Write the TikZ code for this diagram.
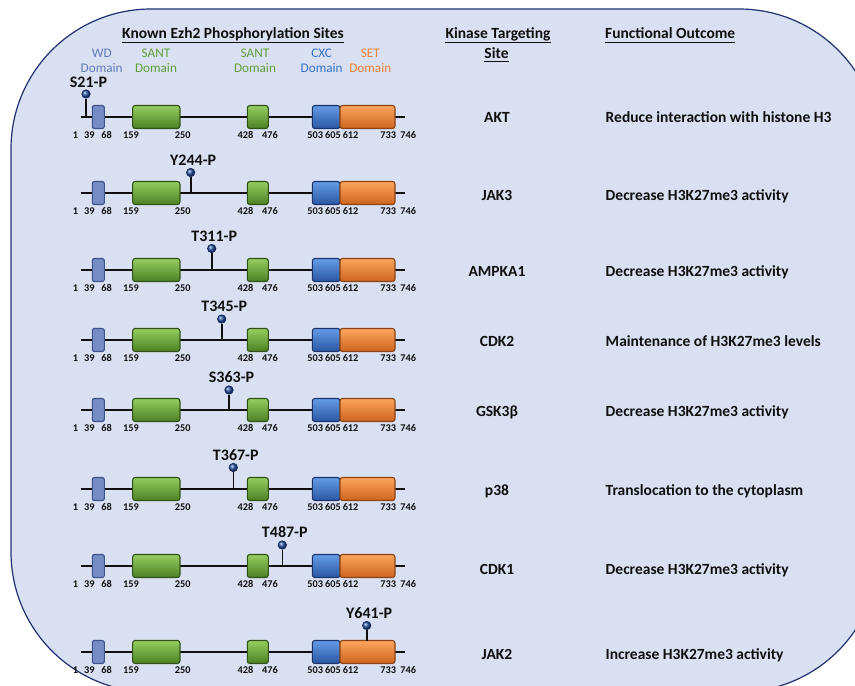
\documentclass[tikz,border=0pt]{standalone}
\usepackage{fontspec}
\setmainfont{Carlito}
\usetikzlibrary{calc}
\definecolor{bgfill}{RGB}{217,224,241}
\definecolor{bgline}{RGB}{32,48,112}
\definecolor{wdtxt}{RGB}{96,124,184}
\definecolor{santtxt}{RGB}{98,160,58}
\definecolor{cxctxt}{RGB}{52,112,200}
\definecolor{settxt}{RGB}{240,130,50}
\definecolor{wdlight}{RGB}{200,212,240}
\definecolor{wddark}{RGB}{118,140,196}
\definecolor{wdedge}{RGB}{62,82,140}
\definecolor{santlight}{RGB}{150,205,95}
\definecolor{santmid}{RGB}{112,172,58}
\definecolor{santdark}{RGB}{76,128,36}
\definecolor{santedge}{RGB}{48,82,24}
\definecolor{cxclight}{RGB}{100,155,230}
\definecolor{cxcmid}{RGB}{64,116,204}
\definecolor{cxcdark}{RGB}{42,86,164}
\definecolor{cxcedge}{RGB}{28,52,110}
\definecolor{setlight}{RGB}{252,165,95}
\definecolor{setmid}{RGB}{242,128,50}
\definecolor{setdark}{RGB}{205,100,30}
\definecolor{setedge}{RGB}{140,68,20}
\definecolor{ballfill}{RGB}{40,80,160}
\definecolor{balledge}{RGB}{20,40,90}
\definecolor{inkc}{RGB}{15,15,15}
\tikzset{
  domainbox/.style={draw, rounded corners=2.5pt, line width=1.1pt, minimum height=23pt, inner sep=0pt},
  wdbox/.style={domainbox, draw=wdedge, left color=wddark, middle color=wdlight, right color=wddark, minimum width=12pt, rounded corners=2pt},
  santbox/.style={domainbox, draw=santedge, top color=santlight, middle color=santmid, bottom color=santdark},
  cxcbox/.style={domainbox, draw=cxcedge, top color=cxclight, middle color=cxcmid, bottom color=cxcdark},
  setbox/.style={domainbox, draw=setedge, top color=setlight, middle color=setmid, bottom color=setdark},
  rowtxt/.style={font=\bfseries\fontsize{15.5}{18}\selectfont, text=inkc, inner sep=0pt, anchor=base},
  pintxt/.style={rowtxt, font=\bfseries\fontsize{16}{18}\selectfont},
  hdrtxt/.style={rowtxt, text depth=3.5pt},
  domlbl/.style={font=\fontsize{13.2}{15}\selectfont, inner sep=0pt, anchor=base},
  numlbl/.style={font=\bfseries\fontsize{10.3}{12}\selectfont, text=inkc, inner sep=0pt, anchor=base},
  pinball/.style={circle, draw=balledge, line width=0.6pt, ball color=ballfill, minimum size=8.5pt, inner sep=0pt},
  pinstem/.style={draw=inkc, line width=1.6pt},
  backbone/.style={draw=inkc, line width=1.5pt},
  ulne/.style={draw=inkc, line width=1pt}
}
\begin{document}
\begin{tikzpicture}[x=1pt, y=-1pt]
\useasboundingbox (0,0) rectangle (855,686);
\fill[white] (0,0) rectangle (855,686);
\begin{scope}
  \clip (0,0) rectangle (855,686);
  \draw[fill=bgfill, draw=bgline, line width=1.2pt, rounded corners=140pt] (11,9) rectangle (879,692);
\end{scope}
% headers
\node[hdrtxt] (title) at (233,38.5) {Known Ezh2 Phosphorylation Sites};
\draw[ulne] (title.south west) -- (title.south east);
\node[hdrtxt] (kin1) at (498,38.5) {Kinase Targeting};
\draw[ulne] (kin1.south west) -- (kin1.south east);
\node[hdrtxt] (kin2) at (496.5,58) {Site};
\draw[ulne] (kin2.south west) -- (kin2.south east);
\node[hdrtxt, anchor=base west] (fo) at (605,38.5) {Functional Outcome};
\draw[ulne] (fo.south west) -- (fo.south east);
% domain labels
\node[domlbl, text=wdtxt] (wdA) at (101.7,57) {WD};
\node[domlbl, text=wdtxt] (wdB) at (101.7,72.5) {Domain};
\node[domlbl, text=santtxt] (saA) at (156,57) {SANT};
\node[domlbl, text=santtxt] (saB) at (156,72.5) {Domain};
\node[domlbl, text=santtxt] (sbA) at (255,57) {SANT};
\node[domlbl, text=santtxt] (sbB) at (255,72.5) {Domain};
\node[domlbl, text=cxctxt] (cxA) at (321.7,57) {CXC};
\node[domlbl, text=cxctxt] (cxB) at (321.7,72.5) {Domain};
\node[domlbl, text=settxt] (seA) at (370.3,57) {SET};
\node[domlbl, text=settxt] (seB) at (370.3,72.5) {Domain};
% rows
\foreach \r/\y/\tb/\px/\bo/\lo/\so/\pl/\kin/\out in {
1/117/122/86/23/6.5/0/S21-P/AKT/Reduce interaction with histone H3,
2/193/200/190.7/20.5/7.5/0/Y244-P/JAK3/Decrease H3K27me3 activity,
3/270/276/211.7/21.5/7.5/0/T311-P/AMPKA1/Decrease H3K27me3 activity,
4/340/346.7/221.7/21/7.5/0/T345-P/CDK2/Maintenance of H3K27me3 levels,
5/410/416.7/229/20/7.5/0/S363-P/GSK3β/Decrease H3K27me3 activity,
6/489/495/233.3/21.5/7.5/0/T367-P/p38/Translocation to the cytoplasm,
7/566/574/282.3/21/7.5/0/T487-P/CDK1/Decrease H3K27me3 activity,
8/652/659.3/366.7/26.5/7.5/11.5/Y641-P/JAK2/Increase H3K27me3 activity}{
  \coordinate (bs\r) at (80.5,\y);
  \coordinate (be\r) at (404.5,\y);
  \draw[backbone] (bs\r) -- (be\r);
  \node[wdbox] (wd\r) at (98.3,\y) {};
  \node[santbox, minimum width=47.3pt] (sa\r) at (156.3,\y) {};
  \node[santbox, minimum width=21pt] (sb\r) at (257.8,\y) {};
  \node[cxcbox, minimum width=27.7pt] (cx\r) at (326.2,\y) {};
  \node[setbox, minimum width=55pt] (se\r) at (367.5,\y) {};
  \coordinate (pb\r) at (\px,\y-\so);
  \node[pinball] (ball\r) at (\px,\y-\bo) {};
  \draw[pinstem] (pb\r) -- (ball\r.south);
  \node[pintxt] (pl\r) at (\px+2.5,\y-\bo-\lo) {\pl};
  \node[rowtxt] (k\r) at (497,\tb) {\kin};
  \node[rowtxt, anchor=base west] (o\r) at (605.5,\tb) {\out};
  \foreach \nx/\nt in {75.5/1,89.3/39,106.7/68,131/159,182.7/250,245.5/428,270/476,315.3/503,333/605,350.6/612,388.3/733,408.3/746}{
    \node[numlbl] (n\r x\nt) at (\nx,\y+21.5) {\nt};
  }
}
\end{tikzpicture}
\end{document}
